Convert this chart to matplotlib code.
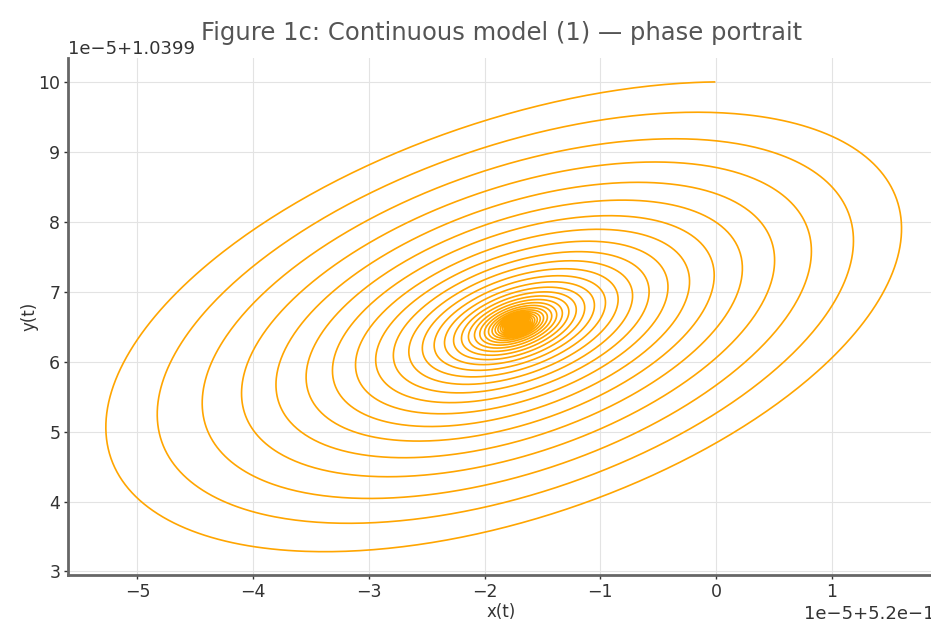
import numpy as np
import matplotlib
matplotlib.use("Agg")
import matplotlib.pyplot as plt
from matplotlib import ticker

# phase portrait (units of 1e-5 around the offsets)
x_offset = 0.52
y_offset = 1.0399
scale = 1e-5

equilibrium = [-1.72, 6.53]     # centre of the spiral
amplitude = [3.71, 3.47]        # first-turn half widths in x and y
phase_lag_deg = 62.6            # x leads y by this angle
decay_per_turn = 0.875          # ratio of successive loop sizes
n_turns = 42
pts_per_turn = 500

theta = np.linspace(0, 2 * np.pi * n_turns, n_turns * pts_per_turn)
r = decay_per_turn ** (theta / (2 * np.pi))
u = equilibrium[0] + amplitude[0] * r * np.cos(theta + np.deg2rad(phase_lag_deg))
v = equilibrium[1] + amplitude[1] * r * np.cos(theta)
x = x_offset + u * scale
y = y_offset + v * scale

fig = plt.figure(figsize=(9.31, 6.28), dpi=100)
ax = fig.add_axes([0.073, 0.0844, 0.931, 0.823])

ax.plot(x, y, color='#FFA500', lw=1.2)

ax.set_xlim(x_offset - 5.6 * scale, x_offset + 1.89 * scale)
ax.set_ylim(y_offset + 2.95 * scale, y_offset + 10.34 * scale)
ax.xaxis.set_major_locator(ticker.MultipleLocator(1e-5))
ax.yaxis.set_major_locator(ticker.MultipleLocator(1e-5))

ax.grid(True, color='#e3e3e3', lw=0.8)
ax.set_axisbelow(True)
for s in ['top', 'right']:
    ax.spines[s].set_visible(False)
for s in ['left', 'bottom']:
    ax.spines[s].set_color('#666666')
    ax.spines[s].set_linewidth(2)
ax.tick_params(colors='#333333', labelsize=12.5, length=3, width=1, pad=2.5)
for t in (ax.xaxis.get_offset_text(), ax.yaxis.get_offset_text()):
    t.set_fontsize(13)
    t.set_color('#333333')

ax.set_xlabel('x(t)', fontsize=12, color='#333333', labelpad=2)
ax.set_ylabel('y(t)', fontsize=12, color='#333333', labelpad=0)
ax.set_title('Figure 1c: Continuous model (1) — phase portrait',
             fontsize=17.5, color='#555555', pad=13)

fig.savefig('out.png', dpi=100)
